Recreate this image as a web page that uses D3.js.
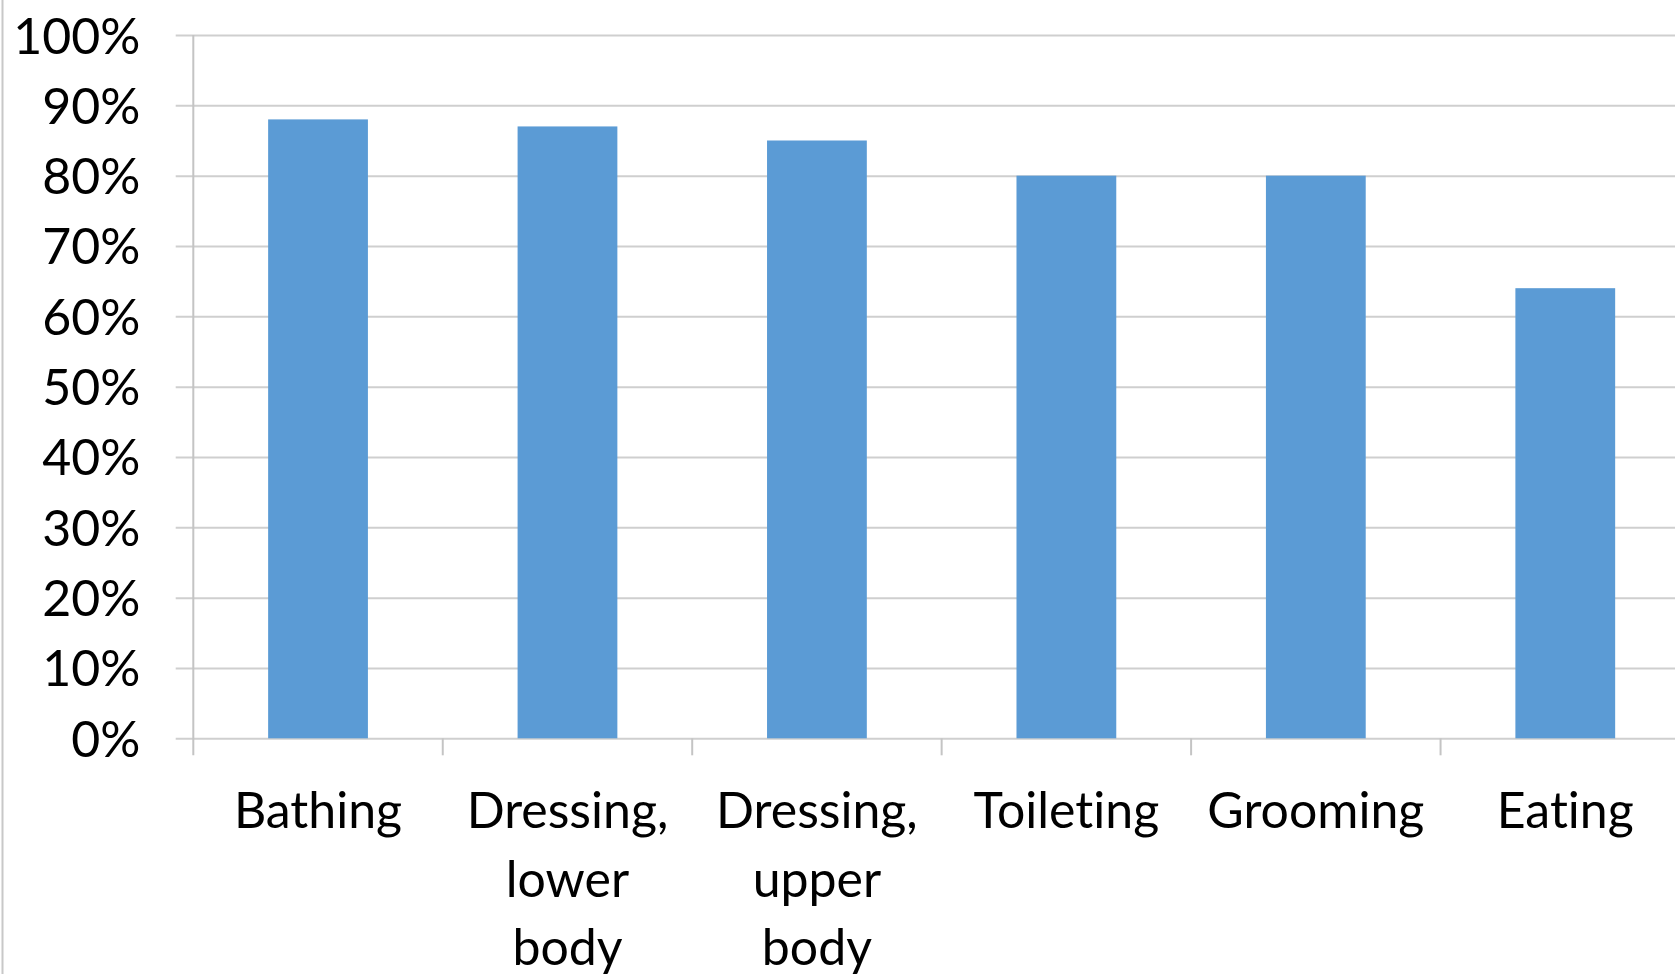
<!DOCTYPE html>
<html>
<head>
<meta charset="utf-8">
<script src="https://cdn.jsdelivr.net/npm/d3@7"></script>
<style>
  html, body { margin: 0; padding: 0; background: #fff; overflow: hidden; }
  svg { display: block; }
  text { font-family: Lato, "Open Sans", sans-serif; fill: #000; font-variant-ligatures: none; font-feature-settings: "liga" 0; }
</style>
</head>
<body>
<svg id="chart" width="1675" height="974"></svg>
<script>
// Share of patients needing help, by activity of daily living
const categories = ["Bathing", "Dressing, lower body", "Dressing, upper body", "Toileting", "Grooming", "Eating"];
const categoryLines = [["Bathing"], ["Dressing,", "lower", "body"], ["Dressing,", "upper", "body"], ["Toileting"], ["Grooming"], ["Eating"]];
const values = [0.88, 0.87, 0.85, 0.80, 0.80, 0.64];
const yTicks = [0, 0.1, 0.2, 0.3, 0.4, 0.5, 0.6, 0.7, 0.8, 0.9, 1.0];

const W = 1675, H = 974;
const plot = { left: 193.3, right: 1690, top: 35, bottom: 738.3 };

const svg = d3.select("#chart");

// frame line on the left edge
svg.append("line")
  .attr("x1", 2.5).attr("x2", 2.5).attr("y1", 0).attr("y2", H)
  .attr("stroke", "#c8c8c8").attr("stroke-width", 2);

const y = d3.scaleLinear().domain([0, 1]).range([plot.bottom, plot.top]);
const x = d3.scaleBand().domain(categories).range([plot.left, plot.right])
  .paddingInner(0.6).paddingOuter(0.3);

// horizontal gridlines (with short ticks left of the axis)
const yAxis = d3.axisLeft(y).tickValues(yTicks).tickFormat(d3.format(".0%"))
  .tickSize(-(W - plot.left + 20)).tickSizeOuter(0);
const gy = svg.append("g").attr("transform", `translate(${plot.left},0)`).call(yAxis);
gy.select(".domain").remove();
gy.selectAll(".tick line")
  .attr("x1", -17.6)
  .attr("stroke", "#cfcfcf").attr("stroke-width", 2);
gy.selectAll(".tick text")
  .attr("x", -53).attr("dy", "0.36em")
  .style("font-size", "50px").attr("fill", "#000");

// bars
svg.append("g").selectAll("rect")
  .data(categories)
  .join("rect")
  .attr("x", d => x(d))
  .attr("width", x.bandwidth())
  .attr("y", (d, i) => y(values[i]))
  .attr("height", (d, i) => y(0) - y(values[i]))
  .attr("fill", "#5b9bd5");

// vertical axis line
svg.append("line")
  .attr("x1", plot.left).attr("x2", plot.left)
  .attr("y1", plot.top).attr("y2", plot.bottom + 17)
  .attr("stroke", "#c4c4c4").attr("stroke-width", 2);

// category boundary ticks below the baseline
const step = x.step();
const boundaries = d3.range(1, categories.length).map(i => plot.left + i * step);
svg.append("g").selectAll("line")
  .data(boundaries)
  .join("line")
  .attr("x1", d => d).attr("x2", d => d)
  .attr("y1", plot.bottom).attr("y2", plot.bottom + 17)
  .attr("stroke", "#c4c4c4").attr("stroke-width", 2);

// category labels, wrapped
const labels = svg.append("g").selectAll("text")
  .data(categories)
  .join("text")
  .attr("text-anchor", "middle")
  .style("font-size", "50px")
  .attr("x", d => x(d) + x.bandwidth() / 2)
  .attr("y", 828);
labels.each(function (d, i) {
  d3.select(this).selectAll("tspan")
    .data(categoryLines[i])
    .join("tspan")
    .attr("x", x(d) + x.bandwidth() / 2)
    .attr("dy", (t, j) => j === 0 ? 0 : 68.5)
    .text(t => t);
});
</script>
</body>
</html>
